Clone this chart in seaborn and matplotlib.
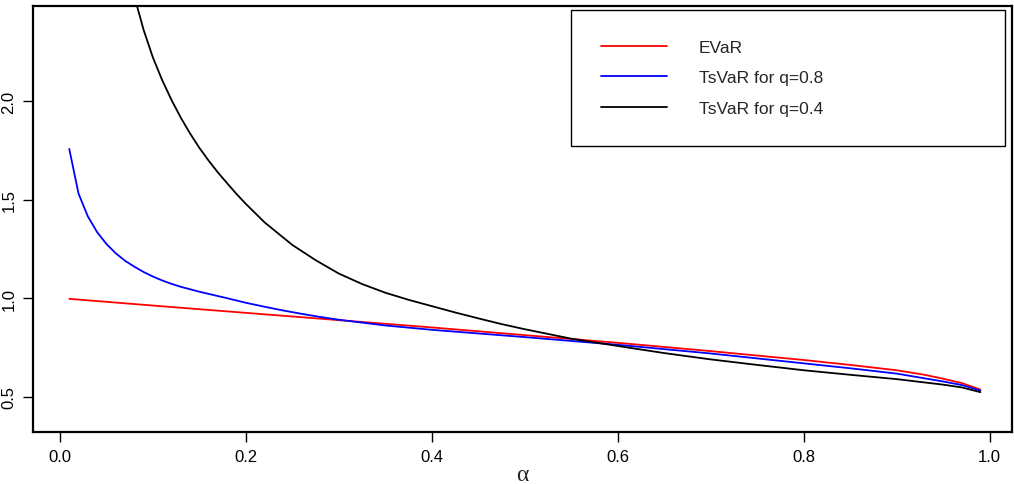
# Recreate EVaR vs TsVaR plot
import pandas as pd
import matplotlib.pyplot as plt
import seaborn as sns

# values
alpha_evar = [0.01, 0.10, 0.20, 0.30, 0.40, 0.50, 0.60, 0.70, 0.80, 0.85, 0.90, 0.93, 0.95, 0.97, 0.99]
evar = [0.997, 0.963, 0.926, 0.889, 0.852, 0.813, 0.774, 0.732, 0.687, 0.662, 0.635, 0.612, 0.592, 0.570, 0.537]

alpha_q08 = [0.01, 0.02, 0.03, 0.04, 0.05, 0.06, 0.07, 0.08, 0.09, 0.10, 0.11, 0.12, 0.13, 0.15, 0.18,
             0.20, 0.22, 0.24, 0.26, 0.28, 0.30, 0.35, 0.40, 0.50, 0.60, 0.70, 0.80, 0.85, 0.90, 0.95,
             0.97, 0.99]
tsvar_q08 = [1.757, 1.530, 1.415, 1.335, 1.275, 1.228, 1.190, 1.160, 1.133, 1.110, 1.090, 1.073, 1.058,
             1.033, 1.000, 0.977, 0.957, 0.938, 0.921, 0.905, 0.891, 0.862, 0.840, 0.803, 0.764, 0.720,
             0.670, 0.645, 0.618, 0.578, 0.560, 0.532]

alpha_q04 = [0.05, 0.06, 0.07, 0.08, 0.09, 0.10, 0.11, 0.12, 0.13, 0.14, 0.15, 0.16, 0.17, 0.18, 0.19,
             0.20, 0.22, 0.25, 0.275, 0.30, 0.325, 0.35, 0.375, 0.40, 0.425, 0.45, 0.475, 0.50, 0.55,
             0.60, 0.65, 0.70, 0.75, 0.80, 0.85, 0.90, 0.95, 0.97, 0.99]
tsvar_q04 = [3.40, 3.05, 2.76, 2.53, 2.36, 2.22, 2.105, 2.005, 1.915, 1.835, 1.762, 1.697, 1.637, 1.582, 1.528,
             1.478, 1.385, 1.270, 1.193, 1.125, 1.072, 1.028, 0.992, 0.960, 0.928, 0.898, 0.869, 0.843, 0.795,
             0.758, 0.722, 0.690, 0.662, 0.635, 0.612, 0.590, 0.562, 0.548, 0.524]

labels = ['EVaR', 'TsVaR for q=0.8', 'TsVaR for q=0.4']
colors = ['#ff0000', '#0000ff', '#000000']
x_ticks = [0.0, 0.2, 0.4, 0.6, 0.8, 1.0]
y_ticks = [0.5, 1.0, 1.5, 2.0]

df = pd.concat([
    pd.DataFrame({'alpha': alpha_evar, 'value': evar, 'series': labels[0]}),
    pd.DataFrame({'alpha': alpha_q08, 'value': tsvar_q08, 'series': labels[1]}),
    pd.DataFrame({'alpha': alpha_q04, 'value': tsvar_q04, 'series': labels[2]}),
], ignore_index=True)

sns.set_theme(style='ticks')
plt.rcParams['font.family'] = ['Liberation Sans', 'DejaVu Sans']

fig = plt.figure(figsize=(10.14, 4.85), dpi=100)
ax = fig.add_axes([33 / 1014, 1 - 433 / 485, 979 / 1014, 426.3 / 485])

sns.lineplot(data=df, x='alpha', y='value', hue='series', hue_order=labels,
             palette=dict(zip(labels, colors)), estimator=None, sort=False,
             linewidth=1.3, ax=ax)

ax.set_xlim(-0.029, 1.024)
ax.set_ylim(0.322, 2.483)
ax.set_xticks(x_ticks)
ax.set_xticklabels([f'{t:.1f}' for t in x_ticks])
ax.set_yticks(y_ticks)
ax.set_yticklabels([f'{t:.1f}' for t in y_ticks], rotation=90, va='center')
ax.tick_params(axis='both', direction='out', length=7, width=1, color='black',
               labelsize=12, labelcolor='black', pad=5)
for s in ax.spines.values():
    s.set_visible(True)
    s.set_linewidth(1.6)
    s.set_color('black')

ax.set_xlabel('α', fontsize=17, family='Liberation Serif', labelpad=0)
ax.set_ylabel('')

handles, labs = ax.get_legend_handles_labels()
leg = ax.legend(handles, labs, loc='upper left', bbox_to_anchor=(0.5496, 0.0, 0.4432, 0.99),
                mode='expand', borderaxespad=0, fontsize=12.5, handlelength=3.85,
                handletextpad=1.8, borderpad=1.7, labelspacing=0.9,
                fancybox=False, framealpha=1, edgecolor='black')
leg.get_frame().set_linewidth(1.0)

plt.savefig('out.png', dpi=100)
